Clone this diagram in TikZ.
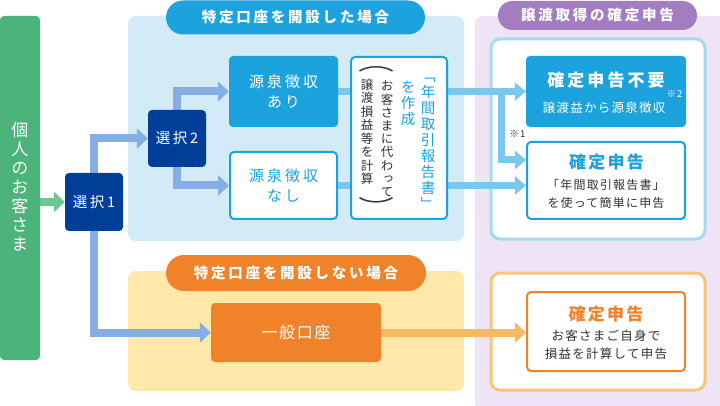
\documentclass[tikz,border=0pt]{standalone}
\usepackage{fontspec}
\usepackage{graphicx}
\setmainfont{Noto Sans CJK JP}[LetterSpace=10]
\newfontfamily\vfont{Noto Sans CJK JP}[RawFeature=+vert]
\usetikzlibrary{arrows.meta}
\definecolor{cGreen}{HTML}{4CB37A}
\definecolor{cGreenArrow}{HTML}{6DC791}
\definecolor{cNavy}{HTML}{003F98}
\definecolor{cArrowBlue}{HTML}{86AEE2}
\definecolor{cRegionBlue}{HTML}{D3EBF7}
\definecolor{cBlue}{HTML}{1CA2DC}
\definecolor{cLinkBlue}{HTML}{7CC8EC}
\definecolor{cRegionPurple}{HTML}{EFE4F6}
\definecolor{cPurple}{HTML}{A47CC0}
\definecolor{cBorderBlue}{HTML}{A6DAF2}
\definecolor{cRegionYellow}{HTML}{FFE8A9}
\definecolor{cOrange}{HTML}{F0832A}
\definecolor{cLinkOrange}{HTML}{F6B964}
\definecolor{cBorderOrange}{HTML}{F6C679}
\definecolor{cText}{HTML}{333333}
\newcommand\jsize[2]{\fontsize{#1}{#2}\selectfont}
\newcommand\wide[1]{\addfontfeatures{LetterSpace=#1}}
\newcommand\cjs{\rule[-0.12em]{0pt}{1em}}
\pgfdeclarelayer{regions}
\pgfdeclarelayer{links}
\pgfsetlayers{regions,links,main}
\begin{document}
\begin{tikzpicture}[x=1pt,y=-1pt,
  area/.style={inner sep=0pt, rounded corners=8pt},
  pill/.style={inner sep=0pt, text=white, font=\bfseries\jsize{14.5}{16}\wide{19}},
  bx/.style={inner sep=0pt, rounded corners=4pt, align=center},
  fillbx/.style={bx, fill=#1, text=white},
  framebx/.style={bx, fill=white, draw=#1, line width=2pt},
  outerbx/.style={inner sep=0pt, rounded corners=9pt, fill=white, draw=#1, line width=3pt},
  vstack/.style={inner sep=0pt, align=center, font=\vfont},
  fatarrow/.style={line width=8pt, line join=miter, draw=#1, -{Triangle[length=11pt,width=20pt]}},
  slimarrow/.style={line width=7pt, line join=miter, draw=#1, -{Triangle[length=11pt,width=18pt]}}
]
\useasboundingbox (0,0) rectangle (720,406);

% ---------------- regions ----------------
\begin{pgfonlayer}{regions}
\node[area, fill=cRegionPurple, minimum width=250pt, minimum height=396pt] (purpleArea) at (600,214) {};
\node[area, fill=cRegionBlue, minimum width=336pt, minimum height=225pt] (blueArea) at (296,128.5) {};
\node[area, fill=cRegionYellow, minimum width=336pt, minimum height=120pt] (yellowArea) at (296,331) {};
\node[pill, fill=cBlue, rounded corners=17pt, minimum width=259pt, minimum height=34pt] (tabBlue) at (295.5,17.5) {特定口座を開設した場合};
\node[pill, fill=cPurple, rounded corners=14.5pt, minimum width=199pt, minimum height=29pt] (tabPurple) at (597.5,15.5) {譲渡取得の確定申告};
\node[pill, fill=cOrange, rounded corners=18pt, minimum width=260pt, minimum height=36pt] (tabOrange) at (296,273) {特定口座を開設しない場合};
\node[outerbx=cBorderBlue, minimum width=214pt, minimum height=200pt] (outerBlue) at (598,139) {};
\node[outerbx=cBorderOrange, minimum width=214pt, minimum height=117pt] (outerOrange) at (598,331.5) {};
\end{pgfonlayer}

% ---------------- boxes ----------------
\node[inner sep=0pt, rounded corners=4pt, fill=cGreen, minimum width=40pt, minimum height=344pt] (customer) at (20,188) {};
\node[vstack, text=white, font=\vfont\jsize{17}{19}] (customerText) at (20,187) {\cjs 個\\人\\の\\お\\客\\さ\\ま\cjs};

\node[fillbx=cNavy, minimum width=58pt, minimum height=58pt, font=\jsize{14.5}{16}\wide{18}] (sel1) at (94,202) {選択1};
\node[fillbx=cNavy, minimum width=58pt, minimum height=57pt, font=\jsize{14.5}{16}\wide{18}] (sel2) at (177,138.5) {選択2};

\node[fillbx=cBlue, minimum width=109pt, minimum height=71pt, font=\jsize{15}{20.5}\wide{20}] (withholding) at (283.5,91.5) {源泉徴収\\あり};
\node[framebx=cBlue, text=cBlue, minimum width=107pt, minimum height=67pt, font=\jsize{15}{20.5}\wide{20}] (noWithholding) at (283.5,185.5) {源泉徴収\\なし};

\node[framebx=cBlue, minimum width=96pt, minimum height=162pt] (report) at (399,138) {};
\node[vstack, text=cText, font=\vfont\jsize{12.5}{13.2}] (reportColA) at (387,139) {\cjs お\\客\\さ\\ま\\に\\代\\わ\\っ\\て\cjs};
\node[vstack, text=cText, font=\vfont\jsize{12.5}{13.5}] (reportColB) at (367,132) {\cjs 譲\\渡\\損\\益\\等\\を\\計\\算\cjs};
\node[inner sep=0pt, text=cText, font=\vfont\jsize{12}{13}] (reportParenTop) at (376.5,69.5) {\scalebox{3}[1.8]{︵}};
\node[inner sep=0pt, text=cText, font=\vfont\jsize{12}{13}] (reportParenBottom) at (376.5,206.5) {\scalebox{3}[1.8]{︶}};
\node[vstack, text=cBlue, font=\vfont\jsize{14.5}{16}] (reportTitle) at (428,140) {\cjs ﹁\\年\\間\\取\\引\\報\\告\\書\\﹂\cjs};
\node[vstack, text=cBlue, font=\vfont\jsize{14.5}{16}] (reportMake) at (408,102.5) {\cjs を\\作\\成\cjs};

\node[fillbx=cBlue, minimum width=160pt, minimum height=71pt] (noFiling) at (606,91.5) {};
\node[inner sep=0pt, text=white, font=\bfseries\jsize{17}{19}\wide{18}] (noFilingTitle) at (606,80) {確定申告不要};
\node[inner sep=0pt, text=white, font=\jsize{9.5}{10}] (note2) at (674.5,94) {※2};
\node[inner sep=0pt, text=white, font=\jsize{12.5}{14}] (noFilingSub) at (604,107.5) {譲渡益から源泉徴収};

\node[framebx=cBlue, minimum width=158pt, minimum height=77pt] (filingA) at (606,180.5) {};
\node[inner sep=0pt, text=cBlue, font=\bfseries\jsize{17}{19}\wide{13}] (filingATitle) at (606.5,162.5) {確定申告};
\node[inner sep=0pt, text=cText, align=center, font=\jsize{12}{17.5}] (filingASub) at (606,194) {「年間取引報告書」\\を使って簡単に申告};

\node[fillbx=cOrange, minimum width=170pt, minimum height=59pt, font=\jsize{16}{18}] (general) at (296,332.5) {一般口座};

\node[framebx=cOrange, minimum width=158pt, minimum height=79pt] (filingB) at (606,331.5) {};
\node[inner sep=0pt, text=cOrange, font=\bfseries\jsize{17}{19}\wide{13}] (filingBTitle) at (606,314.5) {確定申告};
\node[inner sep=0pt, text=cText, align=center, font=\jsize{12.5}{18}] (filingBSub) at (606,345) {お客さまご自身で\\損益を計算して申告};

\node[inner sep=0pt, text=cText, font=\jsize{9.5}{10}] (note1) at (517.5,133.5) {※1};

% ---------------- connectors ----------------
\coordinate (branchTop) at (501.5,91.5);
\coordinate (branchLane) at (0,160);
\begin{pgfonlayer}{links}
\draw[fatarrow=cGreenArrow] (customer.east |- sel1.west) -- (sel1.west);
\draw[fatarrow=cArrowBlue] (sel1.north) |- (sel2.west);
\draw[fatarrow=cArrowBlue] (sel1.south) |- (general.west);
\draw[fatarrow=cArrowBlue] (sel2.north) |- (withholding.west);
\draw[fatarrow=cArrowBlue] (sel2.south) |- (noWithholding.west);
\draw[slimarrow=cLinkBlue] (withholding.east) -- (noFiling.west);
\draw[slimarrow=cLinkBlue] (noWithholding.east) -- (filingA.west |- noWithholding.east);
\draw[slimarrow=cLinkBlue] (branchTop) |- (filingA.west |- branchLane);
\draw[fatarrow=cLinkOrange] (general.east) -- (filingB.west |- general.east);
\end{pgfonlayer}
\end{tikzpicture}
\end{document}
